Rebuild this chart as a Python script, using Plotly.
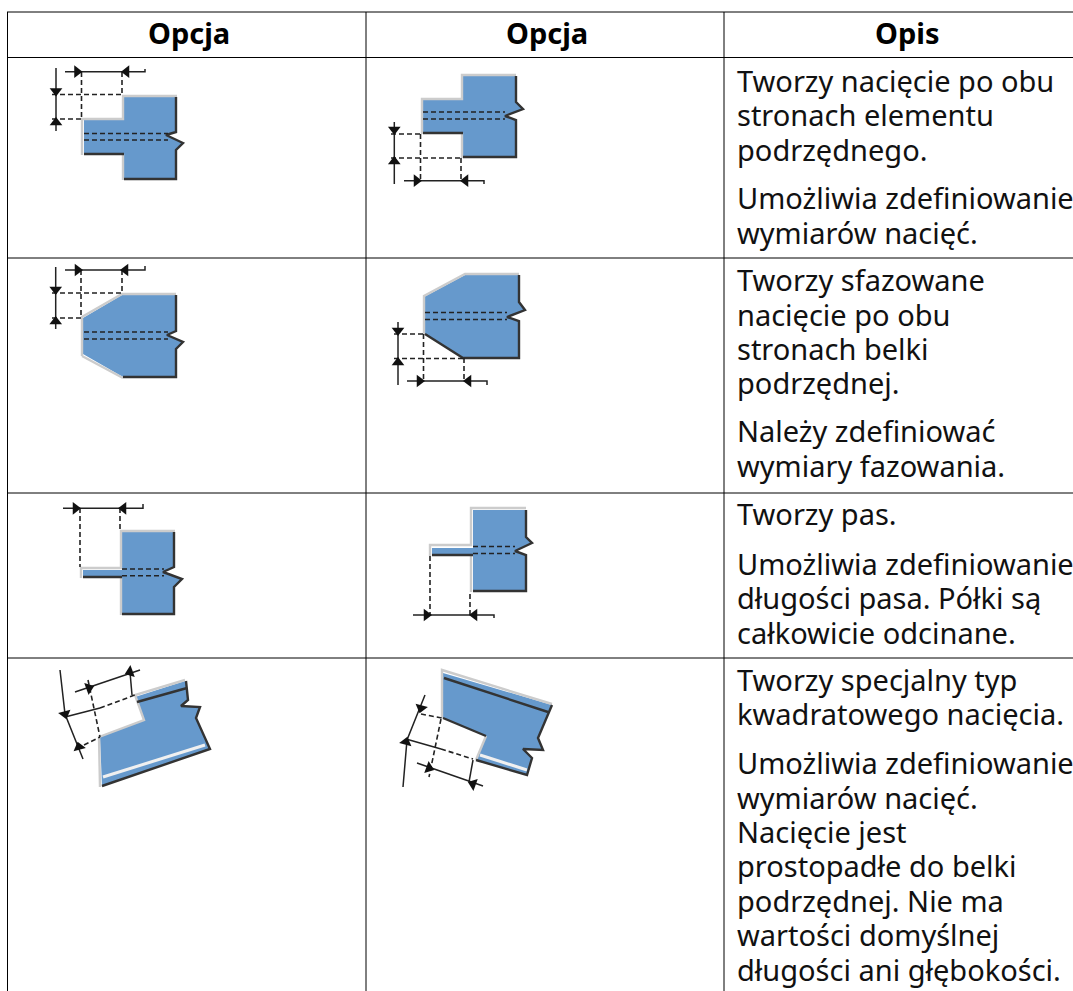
import plotly.graph_objects as go

# ---- table structure ----
header_labels = ["Opcja", "Opcja", "Opis"]
header_x = [189, 547, 907]
header_y = 32
col_lines = [7.5, 366, 724]
row_lines = [12, 57.5, 258, 493, 658]

# ---- description text ----
desc_lines = ["Tworzy nacięcie po obu", "stronach elementu", "podrzędnego.",
              "Umożliwia zdefiniowanie", "wymiarów nacięć.",
              "Tworzy sfazowane", "nacięcie po obu", "stronach belki", "podrzędnej.",
              "Należy zdefiniować", "wymiary fazowania.",
              "Tworzy pas.",
              "Umożliwia zdefiniowanie", "długości pasa. Półki są", "całkowicie odcinane.",
              "Tworzy specjalny typ", "kwadratowego nacięcia.",
              "Umożliwia zdefiniowanie", "wymiarów nacięć.", "Nacięcie jest",
              "prostopadłe do belki", "podrzędnej. Nie ma", "wartości domyślnej",
              "długości ani głębokości."]
desc_y = [80.5, 114.5, 149, 197.5, 232.5,
          279.5, 314.5, 348.5, 382.5, 430.5, 465.5,
          513.5, 563.5, 597.5, 632.5,
          679.5, 713.5, 762.5, 797.5, 831.5, 865.5, 900.5, 934.5, 969.5]
desc_x = 737

# ---- diagrams ----
d1_blue = [(124,97),(176,97),(176,132),(166,135),(183,143),(176,150),(176,179),(124,179),(124,154),(84,154),(84,120),(124,120)]
d1_light = [[(82,155),(82,119),(123,119),(123,96),(177,96)], [(123,154),(123,180)]]
d1_dark = [[(176,97),(176,132),(166,135),(183,143),(176,150),(176,179),(124,179)], [(84,154),(124,154)]]
d1_dash = [[(84,133.5),(168,133.5)], [(84,140),(168,140)], [(52,94.5),(122,94.5)], [(52,119),(82,119)], [(81.5,72),(81.5,119)], [(122,72),(122,94)]]
d1_solid = [[(65,71.7),(145,71.7),(145,69)], [(56,68),(56,131)]]
d1_arrows = [(77,71.7,90),(126.5,71.7,270),(56,91,180),(56,122.5,0)]

d2_blue = [(463,76),(516,76),(516,102),(523,109),(505,116),(516,120),(516,157),(463,157),(463,133),(423,133),(423,100),(463,100)]
d2_light = [[(422,134),(422,99),(462,99),(462,75),(516,75)], [(462,133),(462,158)]]
d2_dark = [[(516,76),(516,102),(523,109),(505,116),(516,120),(516,157),(463,157)], [(423,133),(463,133)]]
d2_dash = [[(423,112),(505,112)], [(423,119),(505,119)], [(391,134),(421,134)], [(391,158),(461,158)], [(420.5,134),(420.5,181)], [(461,158),(461,181)]]
d2_solid = [[(404,180.7),(484,180.7),(484,184)], [(394.3,122),(394.3,184)]]
d2_arrows = [(416.5,180.7,90),(465.5,180.7,270),(394.3,129.5,180),(394.3,161.5,0)]

d3_blue = [(122,295),(176,295),(176,331),(167,335),(183,342),(176,349),(176,377),(123,377),(83,354),(83,318)]
d3_light = [[(82,356),(82,317),(122,294),(176,294)], [(82,356),(123,378)]]
d3_dark = [[(176,295),(176,331),(167,335),(183,342),(176,349),(176,377),(123,377)]]
d3_dash = [[(84,332),(168,332)], [(84,339),(168,339)], [(52,293),(122,293)], [(52,318),(81,318)], [(81,270),(81,318)], [(122,270),(122,293)]]
d3_solid = [[(65,270),(145,270),(145,266)], [(55.7,267),(55.7,329)]]
d3_arrows = [(77.5,270,90),(125.5,270,270),(55.7,289.5,180),(55.7,321.5,0)]

d4_blue = [(465,275),(519,275),(519,302),(525,310),(507,317),(519,321),(519,358),(463,358),(425,334),(424,297)]
d4_light = [[(424,335),(424,296),(465,274),(519,274)]]
d4_dark = [[(519,275),(519,302),(525,310),(507,317),(519,321),(519,358),(463,358),(425,334)]]
d4_dash = [[(425,312.5),(507,312.5)], [(425,319.5),(507,319.5)], [(394,334),(424,334)], [(394,358.5),(463,358.5)], [(423.5,334),(423.5,380)], [(464,358),(464,380)]]
d4_solid = [[(407,381),(487,381),(487,385)], [(398,322),(398,385)]]
d4_arrows = [(419.5,381,90),(468.5,381,270),(398,330.5,180),(398,362.5,0)]

d5_blue = [(122,532),(174,532),(174,567),(163,572),(182,579),(174,587),(174,614),(122,614),(122,577),(83,577),(83,570),(122,570)]
d5_light = [[(81,578),(81,568),(121,568),(121,531),(175,531)], [(121,578),(121,615)]]
d5_dark = [[(174,532),(174,567),(163,572),(182,579),(174,587),(174,614),(122,614)], [(83,577),(122,577)]]
d5_dash = [[(122,569),(164,569)], [(122,575.7),(164,575.7)], [(80,508),(80,567)], [(120,508),(120,530)]]
d5_solid = [[(63,508.3),(143,508.3),(143,504)]]
d5_arrows = [(75.5,508.3,90),(123.5,508.3,270)]

d6_blue = [(473,510),(526,510),(526,537),(532,543),(515,551),(526,555),(526,592),(473,592),(473,555),(432,555),(432,548),(473,548)]
d6_light = [[(430,556),(430,545),(471,545),(471,508),(526,508)], [(471,555),(471,592)]]
d6_dark = [[(526,510),(526,537),(532,543),(515,551),(526,555),(526,591),(473,591)], [(432,555),(473,555)]]
d6_dash = [[(473,546.5),(515,546.5)], [(473,553.5),(515,553.5)], [(430,556),(430,615)], [(470,594),(470,615)]]
d6_solid = [[(413,615),(494,615),(494,618)]]
d6_arrows = [(426.5,615,90),(474.5,615,270)]

d7_blue = [(135,697),(185,681),(188,693),(188,700),(181,706),(200,707),(196,718),(210,749),(102,786),(100,737),(144,720)]
d7_light = [[(100,787),(99,737),(144,720),(135,695),(185,680)]]
d7_dark = [[(137,702),(187,688)], [(186,681),(188,700),(181,706),(200,707),(196,718),(210,749),(102,786)]]
d7_white = [[(103,777),(205,745)]]
d7_dash = [[(100,708),(135,695)], [(84,745),(100,737)], [(88,680),(100,737)]]
d7_solid = [[(60,670),(62,690),(65,714),(83,759)], [(65,717),(100,708)], [(75,692),(140,670)], [(130,672),(132,695)]]
d7_arrows = [(65,714,165),(79,747,345),(89,688,70),(130,672,250)]

d8_blue = [(443,673),(552,705),(538,738),(543,750),(523,749),(532,758),(527,775),(476,760),(486,736),(443,718)]
d8_light = [[(442,718),(442,670),(552,704)], [(476,760),(486,736)]]
d8_dark = [[(444,678),(548,712)], [(552,705),(538,738),(543,750),(523,749),(532,758),(527,775),(476,760)], [(443,718),(486,736)]]
d8_white = [[(480,755),(527,770)]]
d8_dash = [[(421,714),(442,718)], [(441,719),(429,777)], [(441,749),(473,759)]]
d8_solid = [[(425,695),(407,740),(403,787)], [(406,739),(441,749)], [(417,763),(483,786)], [(473,760),(469,782)]]
d8_arrows = [(421,708,195),(406,742,15),(429,768,110),(473,784,290)]

BLUE = "#6699cc"
LIGHT = "#cccccc"
DARK = "#333333"

fig = go.Figure()


def line(pts, color, width, dash="solid"):
    fig.add_trace(go.Scatter(x=[p[0] for p in pts], y=[p[1] for p in pts], mode="lines",
                             line=dict(color=color, width=width, dash=dash),
                             hoverinfo="skip", showlegend=False))


def diagram(blue, light, dark, dash, solid, arrows, white=()):
    fig.add_trace(go.Scatter(x=[p[0] for p in blue], y=[p[1] for p in blue], mode="lines",
                             fill="toself", fillcolor=BLUE, line=dict(width=0),
                             hoverinfo="skip", showlegend=False))
    for seg in light:
        line(seg, LIGHT, 2.4)
    for seg in white:
        line(seg, "#f0f0f0", 3)
    for seg in dark:
        line(seg, DARK, 2.4)
    for seg in solid:
        line(seg, "#222222", 1.5)
    for seg in dash:
        line(seg, "#222222", 1.6, "5px,3px")
    fig.add_trace(go.Scatter(x=[a[0] for a in arrows], y=[a[1] for a in arrows], mode="markers",
                             marker=dict(symbol="triangle-up", size=11, color="#111111",
                                         angle=[a[2] for a in arrows], line=dict(width=0)),
                             hoverinfo="skip", showlegend=False))


diagram(d1_blue, d1_light, d1_dark, d1_dash, d1_solid, d1_arrows)
diagram(d2_blue, d2_light, d2_dark, d2_dash, d2_solid, d2_arrows)
diagram(d3_blue, d3_light, d3_dark, d3_dash, d3_solid, d3_arrows)
diagram(d4_blue, d4_light, d4_dark, d4_dash, d4_solid, d4_arrows)
diagram(d5_blue, d5_light, d5_dark, d5_dash, d5_solid, d5_arrows)
diagram(d6_blue, d6_light, d6_dark, d6_dash, d6_solid, d6_arrows)
diagram(d7_blue, d7_light, d7_dark, d7_dash, d7_solid, d7_arrows, d7_white)
diagram(d8_blue, d8_light, d8_dark, d8_dash, d8_solid, d8_arrows, d8_white)

for y in row_lines:
    line([(7, y), (1073, y)], "#000000", 1)
for x in col_lines:
    line([(x, 12), (x, 991)], "#000000", 1)

annotations = []
for label, x in zip(header_labels, header_x):
    annotations.append(dict(x=x, y=header_y, text=label, xref="x", yref="y", showarrow=False,
                            xanchor="center", yanchor="middle",
                            font=dict(family="Noto Sans", size=29, color="#000000", weight="bold")))
for text, y in zip(desc_lines, desc_y):
    annotations.append(dict(x=desc_x, y=y, text=text, xref="x", yref="y", showarrow=False,
                            xanchor="left", yanchor="middle", xshift=-2,
                            font=dict(family="Noto Sans", size=29, color="#111111")))

fig.update_layout(width=1073, height=991, margin=dict(l=0, r=0, t=0, b=0),
                  paper_bgcolor="#ffffff", plot_bgcolor="#ffffff", annotations=annotations,
                  xaxis=dict(range=[0, 1073], visible=False, fixedrange=True),
                  yaxis=dict(range=[991, 0], visible=False, fixedrange=True))

fig.write_html("out.html", config=dict(displayModeBar=False),
               post_script="document.body.style.margin='0';")
